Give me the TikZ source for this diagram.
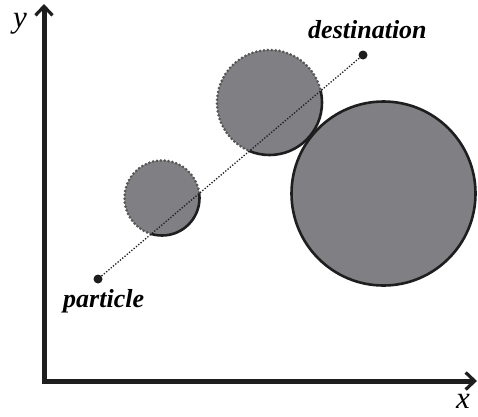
\documentclass[tikz,border=0pt]{standalone}
\usepackage{fontspec}
\setmainfont{Liberation Serif}
\usetikzlibrary{arrows.meta}
\definecolor{blobgray}{RGB}{128,128,132}
\definecolor{inkblack}{RGB}{30,30,30}
\tikzset{
  axisline/.style={line width=5pt, draw=inkblack, line join=miter,
    arrows={Straight Barb[length=9pt,width=17pt,line width=3.2pt]-Straight Barb[length=9pt,width=17pt,line width=3.2pt]}},
  blobfill/.style={fill=blobgray},
  solidrim/.style={draw=inkblack, line width=2.6pt},
  dottedrim/.style={draw=inkblack!75, line width=3pt, line cap=round, dash pattern=on 0pt off 3.9pt},
  endpoint/.style={circle, fill=inkblack, inner sep=0pt, minimum size=9pt},
  pathline/.style={draw=inkblack, line width=1.3pt, dash pattern=on 1.3pt off 1.7pt},
  tag/.style={font=\fontsize{26}{30}\selectfont\bfseries\itshape, inner sep=0pt},
  axistag/.style={font=\fontsize{31}{35}\selectfont\itshape, inner sep=0pt}
}
\begin{document}
\begin{tikzpicture}[x=1pt,y=-1pt]
\useasboundingbox (0,0) rectangle (478,416);
% axes
\coordinate (o) at (44,381);
\coordinate (ytip) at (44,4);
\coordinate (xtip) at (477,381);
\draw[axisline] (ytip) -- (o) -- (xtip);
\node[axistag, anchor=base west] (ylab) at (13,27) {y};
\node[axistag, anchor=base west] (xlab) at (456,408) {x};
% endpoints
\node[endpoint] (p) at (98,279) {};
\node[endpoint] (d) at (363,55) {};
% large circle
\path[blobfill, solidrim] (383.5,193.5) circle[radius=92];
% medium and small circles: fill
\path[blobfill] (269.5,102.5) circle[radius=52.5];
\path[blobfill] (162,198) circle[radius=37.5];
% dotted rims on upper-left side of the line
\begin{scope}
  \clip (-167,503) -- (628,-169) -- (180,-699) -- (-615,-27) -- cycle;
  \draw[dottedrim] (269.5,102.5) circle[radius=52.5];
  \draw[dottedrim] (162,198) circle[radius=37.5];
\end{scope}
% solid rims on lower-right side of the line
\begin{scope}
  \clip (-167,503) -- (628,-169) -- (1076,361) -- (281,1033) -- cycle;
  \draw[solidrim] (269.5,102.5) circle[radius=52.5];
  \draw[solidrim] (162,198) circle[radius=37.5];
\end{scope}
% path line
\draw[pathline] (p) -- (d);
% labels
\node[tag, anchor=base west] (plab) at (63,307) {particle};
\node[tag, anchor=base west] (dlab) at (308,38) {destination};
\end{tikzpicture}
\end{document}
